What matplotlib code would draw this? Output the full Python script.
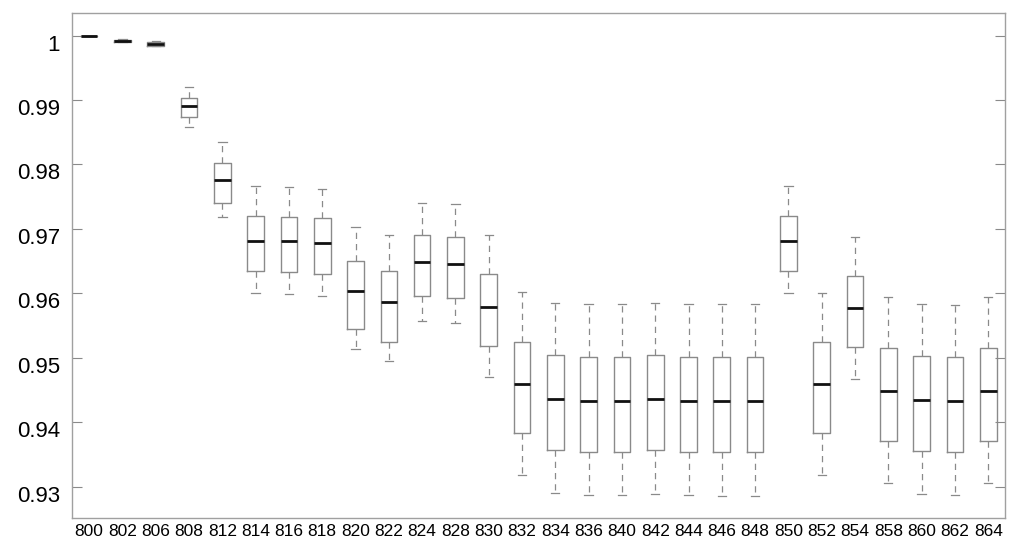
import matplotlib

matplotlib.use("Agg")
import matplotlib.pyplot as plt
from matplotlib.transforms import ScaledTranslation

NODES = ["800", "802", "806", "808", "812", "814", "816", "818", "820", "822",
         "824", "828", "830", "832", "834", "836", "840", "842", "844", "846",
         "848", "850", "852", "854", "858", "860", "862", "864"]

WHISKER_LOW = [1.0, 0.99895, 0.99835, 0.98587, 0.97185, 0.96005, 0.95989, 0.95963,
               0.95140, 0.94944, 0.95575, 0.95539, 0.94696, 0.93189, 0.92904, 0.92868,
               0.92868, 0.92894, 0.92868, 0.92863, 0.92863, 0.96005, 0.93178, 0.94674,
               0.93050, 0.92883, 0.92868, 0.93050]
Q1 = [1.0, 0.99902, 0.99845, 0.98733, 0.97400, 0.96342, 0.96326, 0.96295,
      0.95446, 0.95248, 0.95953, 0.95922, 0.95177, 0.93826, 0.93571, 0.93540,
      0.93540, 0.93567, 0.93540, 0.93535, 0.93535, 0.96342, 0.93826, 0.95161,
      0.93711, 0.93556, 0.93540, 0.93711]
MEDIAN = [1.0, 0.99921, 0.99871, 0.98904, 0.97755, 0.96817, 0.96807, 0.96781,
          0.96040, 0.95865, 0.96481, 0.96455, 0.95787, 0.94587, 0.94359, 0.94332,
          0.94332, 0.94354, 0.94332, 0.94332, 0.94332, 0.96817, 0.94587, 0.95772,
          0.94483, 0.94343, 0.94332, 0.94483]
Q3 = [1.0, 0.99938, 0.99898, 0.99037, 0.98028, 0.97205, 0.97189, 0.97165,
      0.96506, 0.96351, 0.96905, 0.96879, 0.96295, 0.95239, 0.95037, 0.95016,
      0.95011, 0.95037, 0.95016, 0.95011, 0.95011, 0.97205, 0.95239, 0.96273,
      0.95146, 0.95026, 0.95016, 0.95146]
WHISKER_HIGH = [1.0, 0.99945, 0.99910, 0.99199, 0.98354, 0.97661, 0.97646, 0.97620,
                0.97034, 0.96905, 0.97407, 0.97387, 0.96905, 0.96016, 0.95845, 0.95829,
                0.95829, 0.95845, 0.95829, 0.95829, 0.95829, 0.97661, 0.96009, 0.96879,
                0.95938, 0.95834, 0.95824, 0.95938]

Y_TICKS = [0.93, 0.94, 0.95, 0.96, 0.97, 0.98, 0.99, 1.0]
Y_LABELS = ["0.93", "0.94", "0.95", "0.96", "0.97", "0.98", "0.99", "1"]

GREY = "#8a8a8a"


def main():
    plt.rcParams["font.family"] = ["Liberation Sans", "DejaVu Sans"]

    stats = []
    for i, name in enumerate(NODES):
        stats.append({
            "label": name,
            "whislo": WHISKER_LOW[i],
            "q1": Q1[i],
            "med": MEDIAN[i],
            "q3": Q3[i],
            "whishi": WHISKER_HIGH[i],
            "fliers": [],
        })

    fig = plt.figure(figsize=(10.24, 5.52), dpi=100)
    ax = fig.add_axes([0.0708, 0.0625, 0.9105, 0.9137])

    ax.bxp(
        stats,
        positions=range(1, len(NODES) + 1),
        widths=0.5,
        capwidths=0.25,
        showfliers=False,
        boxprops=dict(color=GREY, linewidth=1.0),
        whiskerprops=dict(color=GREY, linewidth=0.9, linestyle=(0, (5, 4))),
        capprops=dict(color=GREY, linewidth=0.9),
        medianprops=dict(color="#111111", linewidth=2.0),
    )

    ax.set_xlim(0.5, len(NODES) + 0.5)
    ax.set_ylim(0.92522, 1.00348)
    ax.set_yticks(Y_TICKS)
    ax.set_yticklabels(Y_LABELS, fontsize=16)
    ax.set_xticks(range(1, len(NODES) + 1))
    ax.set_xticklabels(NODES, fontsize=12.5)

    ax.tick_params(axis="y", direction="in", length=7, width=0.8,
                   color=GREY, left=True, right=True, pad=9)
    ax.tick_params(axis="x", length=0, pad=5)

    # labels in the original sit a little below their tick marks
    shift = ScaledTranslation(0, -0.07, fig.dpi_scale_trans)
    for label in ax.get_yticklabels():
        label.set_transform(label.get_transform() + shift)

    for spine in ax.spines.values():
        spine.set_color("#a0a0a0")
        spine.set_linewidth(1.0)

    fig.savefig("out.png", dpi=100)
    plt.close(fig)


if __name__ == "__main__":
    main()
